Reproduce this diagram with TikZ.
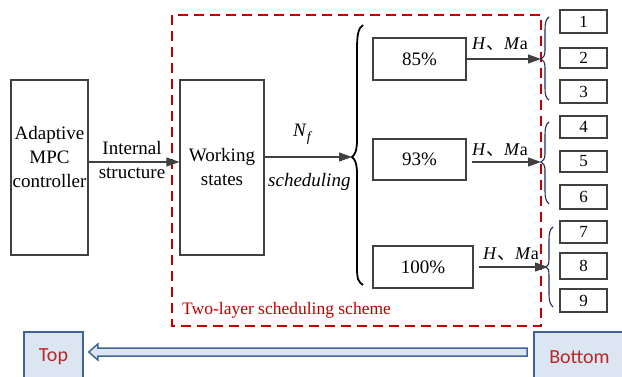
\documentclass[tikz,border=0pt]{standalone}
\usepackage{fontspec}
\setmainfont{Liberation Serif}
\newfontfamily\tagfont{Carlito}
\newfontfamily\cjkfont{Noto Sans CJK SC}
\usetikzlibrary{arrows.meta,calc}
\definecolor{boxgray}{RGB}{64,64,64}
\definecolor{framered}{RGB}{192,0,0}
\definecolor{navyline}{RGB}{31,45,90}
\definecolor{lightblue}{RGB}{220,230,242}
\definecolor{steel}{RGB}{65,100,150}
\definecolor{tagred}{RGB}{185,40,40}
\newcommand{\hma}{\textit{H}{\cjkfont 、}\textit{M}a}
\tikzset{
  box/.style={draw=boxgray, line width=1.1pt, inner sep=0pt, minimum width=#1},
  numbox/.style={draw=boxgray, line width=1.1pt, inner sep=0pt, minimum width=47pt, font=\fontsize{17}{20}\selectfont},
  flow/.style={draw=boxgray, line width=1.1pt, -{Triangle[length=13pt,width=9pt]}},
  bigfont/.style={font=\fontsize{19}{24}\selectfont},
  lbl/.style={anchor=base west, inner sep=0pt, font=\fontsize{18}{20}\selectfont},
  tagbox/.style={draw=steel, fill=lightblue, line width=1.6pt, inner sep=0pt, text=tagred, font=\tagfont\fontsize{20}{22}\selectfont},
  redframe/.style={draw=framered, line width=2.4pt, dash pattern=on 10pt off 6pt},
  bigbrace/.style={draw=black, line width=1.8pt},
  smallbrace/.style={draw=navyline, line width=1.1pt},
}
\begin{document}
\begin{tikzpicture}[x=1pt,y=-1pt]
\useasboundingbox (0,0) rectangle (622,377);

% red frame
\draw[redframe] (172,15) rectangle (541,326);
\node[anchor=base west, inner sep=0pt, text=framered, font=\fontsize{17.5}{20}\selectfont] (frametitle) at (182,315) {Two-layer scheduling scheme};

% main boxes
\node[box=77pt, minimum height=175pt] (adaptive) at (49.5,167.5) {};
\node[bigfont, align=center, inner sep=0pt] (adaptivetxt) at (49.5,157) {Adaptive\\MPC\\controller};
\node[box=84pt, minimum height=175pt, bigfont, align=center] (working) at (222,167.5) {Working\\states};

\node[bigfont, align=center, inner sep=0pt] (internal) at (132,160) {Internal\\structure};
\draw[flow] ([yshift=5.5pt]adaptive.east) -- ([yshift=5.5pt]working.west);

% big brace
\coordinate (bigtip) at (352,157);
\draw[bigbrace] (363,25) .. controls (358,28) and (357,36) .. (357,50) -- (357,140)
  .. controls (357,150) and (355,155) .. (bigtip)
  .. controls (355,159) and (357,164) .. (357,174) -- (357,268)
  .. controls (357,278) and (358,282) .. (363,285);
\draw[flow] (working.east |- bigtip) -- (bigtip);
\node[anchor=base west, inner sep=0pt, font=\fontsize{19}{22}\selectfont] (nf) at (293,137) {\textit{N}\raisebox{-5pt}{\fontsize{14}{16}\selectfont\textit{f}}};
\node[anchor=base west, inner sep=0pt, font=\fontsize{19}{22}\selectfont] (sched) at (268,187) {\textit{scheduling}};

% percentage boxes
\node[box=93pt, minimum height=42pt, bigfont] (p85) at (419.5,59) {85\%};
\node[box=93pt, minimum height=41pt, bigfont] (p93) at (419.5,159.5) {93\%};
\node[box=100pt, minimum height=42pt, bigfont] (p100) at (423,267) {100\%};

% small braces
\coordinate (tip1) at (541,59);
\coordinate (tip2) at (541,162);
\coordinate (tip3) at (546,267);
\draw[smallbrace] (549,17) .. controls (546,19) and (545,23) .. (545,30) -- (545,51)
  .. controls (545,56) and (543,58) .. (tip1)
  .. controls (543,60) and (545,62) .. (545,67) -- (545,88)
  .. controls (545,95) and (546,98) .. (549,100);
\draw[smallbrace] (549,122) .. controls (546,124) and (545,128) .. (545,135) -- (545,154)
  .. controls (545,159) and (543,161) .. (tip2)
  .. controls (543,163) and (545,165) .. (545,170) -- (545,191)
  .. controls (545,198) and (546,201) .. (549,204);
\draw[smallbrace] (553,227) .. controls (550,229) and (549,233) .. (549,240) -- (549,259)
  .. controls (549,264) and (548,266) .. (tip3)
  .. controls (548,268) and (549,270) .. (549,275) -- (549,294)
  .. controls (549,301) and (550,304) .. (553,307);

% arrows to small braces
\draw[flow] (p85.east) -- (tip1);
\draw[flow] ([xshift=5pt]p93.east |- tip2) -- (tip2);
\draw[flow] ([xshift=5pt]p100.east) -- ([xshift=2pt]tip3);
\node[lbl] (lab1) at (472,50) {\hma};
\node[lbl] (lab2) at (472,155.5) {\hma};
\node[lbl] (lab3) at (483,259) {\hma};

% number boxes
\node[numbox, minimum height=23pt] (n1) at (583.5,21.5) {1};
\node[numbox, minimum height=20pt] (n2) at (583.5,58) {2};
\node[numbox, minimum height=23pt] (n3) at (583.5,91.5) {3};
\node[numbox, minimum height=22pt] (n4) at (583.5,127) {4};
\node[numbox, minimum height=21pt] (n5) at (583.5,161.5) {5};
\node[numbox, minimum height=24pt] (n6) at (583.5,197) {6};
\node[numbox, minimum height=22pt] (n7) at (583.5,232) {7};
\node[numbox, minimum height=26pt] (n8) at (583.5,266) {8};
\node[numbox, minimum height=23pt] (n9) at (583.5,300.5) {9};

% Top / Bottom
\node[tagbox, minimum width=59pt, minimum height=50pt] (top) at (53.5,357) {Top};
\node[tagbox, minimum width=91pt, minimum height=50pt] (bot) at (579.5,357) {Bottom};
\coordinate (arrS) at ([xshift=-6pt]bot.west |- 0,352);
\coordinate (arrT) at ([xshift=5pt]top.east |- 0,352);
\draw[draw=steel, fill=lightblue, line width=1.5pt, line join=miter]
  ($(arrS)+(0,-4)$) -- ($(arrT)+(9,-4)$) -- ($(arrT)+(9,-8)$) -- (arrT)
  -- ($(arrT)+(9,8)$) -- ($(arrT)+(9,4)$) -- ($(arrS)+(0,4)$) -- cycle;
\end{tikzpicture}
\end{document}
